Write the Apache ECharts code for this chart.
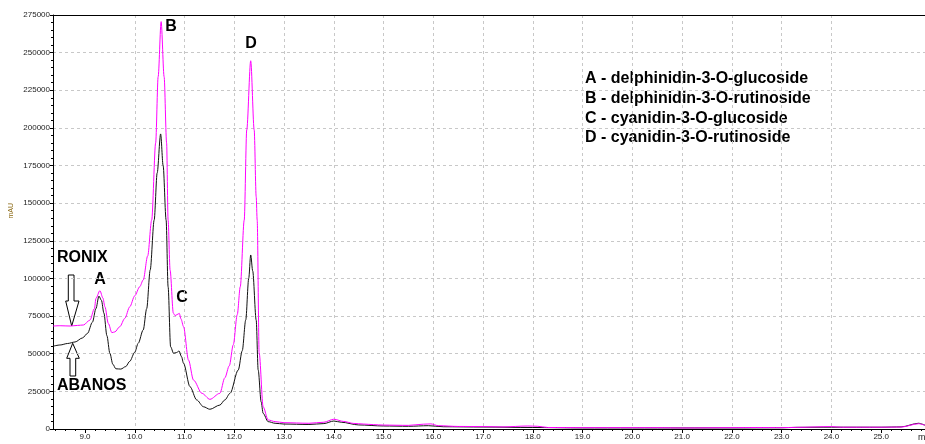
<!DOCTYPE html>
<html>
<head>
<meta charset="utf-8">
<script src="https://cdn.jsdelivr.net/npm/echarts@6/dist/echarts.min.js"></script>
<style>
html,body{margin:0;padding:0;background:#fff;}
#chart{width:925px;height:444px;}
</style>
</head>
<body>
<div id="chart"></div>
<script>
// Retention time (min) and absorbance (mAU)
const abanosTime = [8.357, 8.5, 8.65, 8.8, 8.95, 9.05, 9.15, 9.22, 9.28, 9.33, 9.38, 9.44, 9.5, 9.56, 9.62, 9.72, 9.82, 9.9, 10.0, 10.07, 10.17, 10.24, 10.31, 10.39, 10.45, 10.52, 10.57, 10.63, 10.67, 10.72, 10.78, 10.84, 10.89, 10.94, 10.98, 11.11, 11.245, 11.38, 11.51, 11.71, 11.81, 11.915, 12.08, 12.16, 12.23, 12.29, 12.33, 12.37, 12.44, 12.48, 12.54, 12.58, 12.68, 12.82, 13.0, 13.5, 13.8, 14.0, 14.15, 14.5, 15.0, 15.5, 15.9, 16.2, 17.0, 18.0, 19.0, 20.0, 21.0, 22.0, 23.0, 23.3, 24.0, 25.0, 25.4, 25.75, 25.88];
const abanosMAU = [55000, 55800, 56800, 57800, 60500, 63500, 71000, 80000, 88300, 85500, 77000, 62000, 50300, 43000, 40000, 39800, 41500, 45000, 51000, 57000, 65800, 80000, 105600, 138800, 170000, 196000, 175000, 138800, 94500, 54700, 50300, 50800, 51800, 48000, 43600, 28100, 19300, 14800, 13100, 15900, 19300, 23700, 39200, 52000, 72400, 100000, 115600, 105000, 72400, 39200, 18000, 10400, 4900, 3800, 3300, 3000, 3600, 5300, 4500, 2700, 2000, 1800, 2200, 1500, 1300, 1000, 700, 700, 700, 700, 800, 1100, 1200, 1200, 1400, 3800, 2500];

const ronixTime = [8.357, 8.5, 8.7, 8.85, 8.97, 9.1, 9.19, 9.22, 9.3, 9.36, 9.4, 9.47, 9.54, 9.6, 9.7, 9.8, 9.9, 10.0, 10.1, 10.17, 10.26, 10.34, 10.42, 10.47, 10.53, 10.59, 10.64, 10.67, 10.71, 10.775, 10.81, 10.85, 10.895, 10.93, 10.98, 11.08, 11.18, 11.35, 11.51, 11.71, 11.81, 11.9, 11.98, 12.06, 12.12, 12.2, 12.25, 12.33, 12.4, 12.44, 12.46, 12.5, 12.58, 12.68, 12.82, 13.0, 13.5, 13.8, 14.0, 14.2, 14.4, 14.6, 14.8, 15.0, 15.5, 15.8, 15.95, 16.1, 16.5, 17.0, 17.4, 17.9, 18.1, 18.3, 19.0, 20.0, 20.5, 21.0, 22.0, 22.5, 23.0, 23.3, 24.0, 24.2, 25.0, 25.4, 25.75, 25.88];
const ronixMAU = [68400, 68600, 68400, 68800, 69100, 72400, 80000, 86800, 91900, 87000, 81200, 70000, 64000, 64500, 68000, 73500, 81200, 88500, 94500, 99000, 115000, 138800, 190000, 234000, 270600, 234000, 190000, 138800, 105600, 77000, 75300, 76000, 76800, 73000, 68000, 45800, 32500, 23700, 19700, 23700, 34000, 42000, 56000, 76000, 94500, 138800, 198600, 244600, 198600, 154300, 138800, 50500, 14800, 6000, 4900, 4200, 3800, 4500, 6500, 5000, 3700, 3300, 2900, 2600, 2400, 3200, 3400, 2200, 1700, 1600, 1400, 2000, 1800, 1000, 900, 900, 900, 700, 900, 1000, 900, 1100, 1600, 1200, 1200, 1300, 3500, 2500];

const xMin = 8.357, xMax = 25.88;
const xTickLabels = [9, 10, 11, 12, 13, 14, 15, 16, 17, 18, 19, 20, 21, 22, 23, 24, 25];
const legendLines = ['A - delphinidin-3-O-glucoside', 'B - delphinidin-3-O-rutinoside', 'C - cyanidin-3-O-glucoside', 'D - cyanidin-3-O-rutinoside'];

const xMinorTicks = [];
for (let i = 42; i <= 129; i++) xMinorTicks.push(i / 5);

const zip = (t, v) => t.map((x, i) => [x, v[i]]);

const chart = echarts.init(document.getElementById('chart'), null, {renderer: 'canvas'});
const labelFont = {fontFamily: 'Liberation Sans, Arial, sans-serif', fontSize: 8, color: '#222'};
const boldFont = 'bold 16px "Liberation Sans", Arial, sans-serif';
const gridLine = {show: true, showMinLine: false, showMaxLine: false, lineStyle: {color: '#c8c8c8', type: [3, 3], width: 1}};

chart.setOption({
  animation: false,
  backgroundColor: '#fff',
  grid: {left: 53, right: -1, top: 15, bottom: 15, show: false},
  xAxis: [{
    type: 'value', min: xMin, max: xMax, position: 'bottom',
    axisLine: {show: true, lineStyle: {color: '#000', width: 1}},
    axisTick: {show: true, length: 4, lineStyle: {color: '#000'}, customValues: xTickLabels},
    axisLabel: Object.assign({margin: 4, customValues: xTickLabels, formatter: v => v.toFixed(1)}, labelFont),
    splitLine: gridLine
  }, {
    type: 'value', min: xMin, max: xMax, position: 'bottom',
    axisLine: {show: false},
    axisTick: {show: true, length: 2, lineStyle: {color: '#000'}, customValues: xMinorTicks},
    axisLabel: {show: false},
    splitLine: {show: false}
  }],
  yAxis: {
    type: 'value', min: 0, max: 275000, interval: 25000,
    axisLine: {show: true, lineStyle: {color: '#000', width: 1}},
    axisTick: {show: true, length: 3, lineStyle: {color: '#000'}},
    minorTick: {show: true, splitNumber: 5, length: 2, lineStyle: {color: '#000'}},
    axisLabel: Object.assign({margin: 3, formatter: v => String(v)}, labelFont),
    splitLine: gridLine
  },
  series: [{
    name: 'ABANOS', type: 'line', data: zip(abanosTime, abanosMAU),
    showSymbol: false, smooth: 0.3, smoothMonotone: 'x',
    lineStyle: {color: '#111', width: 1}, z: 2
  }, {
    name: 'RONIX', type: 'line', data: zip(ronixTime, ronixMAU),
    showSymbol: false, smooth: 0.3, smoothMonotone: 'x',
    lineStyle: {color: '#ff00ff', width: 1}, z: 3
  }],
  graphic: [
    {type: 'line', shape: {x1: 53, y1: 15.5, x2: 925, y2: 15.5}, style: {stroke: '#000', lineWidth: 1}, z: 10},
    {type: 'text', left: 8, top: 203, rotation: Math.PI / 2, style: {text: 'mAU', font: '7px "Liberation Sans", Arial', fill: '#8b6914'}},
    {type: 'text', left: 918, top: 433, style: {text: 'min', font: '9px "Liberation Sans", Arial', fill: '#222'}},
    {type: 'text', left: 585, top: 69, style: {text: legendLines.join('\n'), font: boldFont, fill: '#000', lineHeight: 19.7}},
    {type: 'text', x: 57, y: 258, style: {text: 'RONIX', font: boldFont, fill: '#000', verticalAlign: 'middle'}},
    {type: 'text', x: 57, y: 386, style: {text: 'ABANOS', font: boldFont, fill: '#000', verticalAlign: 'middle'}},
    {type: 'text', x: 100, y: 280, style: {text: 'A', font: boldFont, fill: '#000', align: 'center', verticalAlign: 'middle'}},
    {type: 'text', x: 171, y: 27, style: {text: 'B', font: boldFont, fill: '#000', align: 'center', verticalAlign: 'middle'}},
    {type: 'text', x: 182, y: 298, style: {text: 'C', font: boldFont, fill: '#000', align: 'center', verticalAlign: 'middle'}},
    {type: 'text', x: 251, y: 44, style: {text: 'D', font: boldFont, fill: '#000', align: 'center', verticalAlign: 'middle'}},
    {type: 'polygon', shape: {points: [[68.3, 275], [74, 275], [74, 301], [79, 301], [71.7, 326], [65.7, 301], [68.3, 301]]}, style: {fill: '#fff', stroke: '#000', lineWidth: 1}},
    {type: 'polygon', shape: {points: [[72.7, 343.3], [79.3, 358.3], [75.7, 358.3], [75.7, 376], [70, 376], [70, 358.3], [66.7, 358.3]]}, style: {fill: '#fff', stroke: '#000', lineWidth: 1}}
  ]
});
</script>
</body>
</html>
